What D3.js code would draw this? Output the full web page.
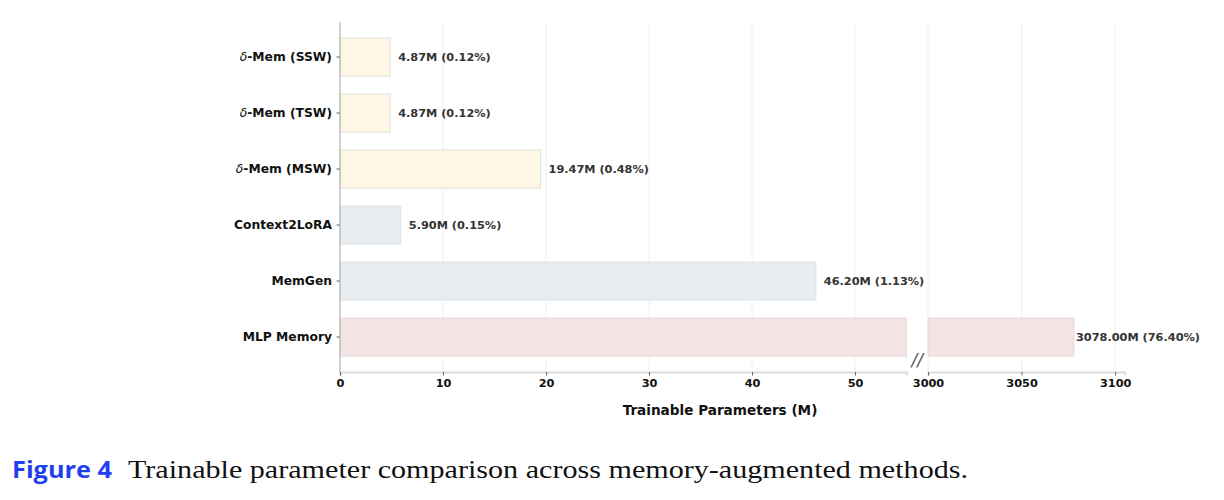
<!DOCTYPE html>
<html>
<head>
<meta charset="utf-8">
<script src="https://cdn.jsdelivr.net/npm/d3@7"></script>
<style>
  body { margin: 0; background: #fff; }
  svg { display: block; }
</style>
</head>
<body>
<svg id="chart" width="1224" height="500"></svg>
<script>
// data
const methods = ["δ-Mem (SSW)", "δ-Mem (TSW)", "δ-Mem (MSW)", "Context2LoRA", "MemGen", "MLP Memory"];
const params = [4.87, 4.87, 19.47, 5.90, 46.20, 3078.00];
const shares = [0.12, 0.12, 0.48, 0.15, 1.13, 76.40];
const groups = ["delta", "delta", "delta", "base", "base", "mlp"];
const leftTicks = [0, 10, 20, 30, 40, 50];
const rightTicks = [3000, 3050, 3100];

const fills = { delta: "#fef7e6", base: "#e7ecf0", mlp: "#f3e3e3" };
const strokes = { delta: "#e2ded4", base: "#dde2e6", mlp: "#e8dada" };

const svg = d3.select("#chart");
const plotTop = 22, plotBottom = 372;

const y = d3.scaleBand()
  .domain(methods)
  .range([plotTop, plotBottom])
  .paddingInner(0.32)
  .paddingOuter(0.285);

// broken x axis: two linear pieces
const xL = d3.scaleLinear().domain([0, 55]).range([340, 906.5]);
const xR = d3.scaleLinear().domain([3000, 3105]).range([928, 1124.5]);

// grid
const grid = svg.append("g");
grid.selectAll("line.gl")
  .data(leftTicks)
  .join("line")
  .attr("class", "gl")
  .attr("x1", d => xL(d)).attr("x2", d => xL(d))
  .attr("y1", plotTop).attr("y2", plotBottom)
  .attr("stroke", "#f0f0f0").attr("stroke-width", 1);
grid.selectAll("line.gr")
  .data(rightTicks)
  .join("line")
  .attr("class", "gr")
  .attr("x1", d => xR(d)).attr("x2", d => xR(d))
  .attr("y1", plotTop).attr("y2", plotBottom)
  .attr("stroke", "#f0f0f0").attr("stroke-width", 1);

const rows = methods.map((m, i) => ({ m, v: params[i], p: shares[i], g: groups[i] }));

// bars, left part
svg.append("g").selectAll("rect")
  .data(rows)
  .join("rect")
  .attr("x", xL(0))
  .attr("y", d => y(d.m))
  .attr("width", d => Math.min(xL(d.v), xL.range()[1]) - xL(0))
  .attr("height", y.bandwidth())
  .attr("fill", d => fills[d.g])
  .attr("stroke", d => strokes[d.g])
  .attr("stroke-width", 1);

// bars, right part (only the big one)
svg.append("g").selectAll("rect")
  .data(rows.filter(d => d.v > xL.domain()[1]))
  .join("rect")
  .attr("x", xR(3000))
  .attr("y", d => y(d.m))
  .attr("width", d => xR(d.v) - xR(3000))
  .attr("height", y.bandwidth())
  .attr("fill", d => fills[d.g])
  .attr("stroke", d => strokes[d.g])
  .attr("stroke-width", 1);

// value labels
svg.append("g").selectAll("text")
  .data(rows)
  .join("text")
  .attr("x", d => d.v > 55 ? xR(d.v) + 2 : xL(d.v) + 8)
  .attr("y", d => y(d.m) + y.bandwidth() / 2)
  .attr("dy", "0.35em")
  .attr("font-family", "DejaVu Sans")
  .attr("font-weight", "bold")
  .attr("font-size", 11.3)
  .attr("fill", "#333")
  .text(d => `${d.v.toFixed(2)}M (${d.p.toFixed(2)}%)`);

// bottom axes
const axL = d3.axisBottom(xL).tickValues(leftTicks).tickFormat(d3.format("d")).tickSize(3.5).tickPadding(3);
const axR = d3.axisBottom(xR).tickValues(rightTicks).tickFormat(d3.format("d")).tickSize(3.5).tickPadding(3);

[axL, axR].forEach(ax => {
  const g = svg.append("g")
    .attr("transform", `translate(0,${plotBottom})`)
    .call(ax);
  g.select(".domain").attr("stroke", "#dddddd").attr("stroke-width", 2);
  g.selectAll(".tick line").attr("stroke", "#444").attr("stroke-width", 0.8);
  g.selectAll(".tick text")
    .attr("font-family", "DejaVu Sans")
    .attr("font-weight", "bold")
    .attr("font-size", 11.3)
    .attr("fill", "#111");
});

// left axis
const ay = svg.append("g")
  .attr("transform", `translate(${xL(0)},0)`)
  .call(d3.axisLeft(y).tickSize(3.5).tickPadding(4).tickFormat(""));
ay.select(".domain").attr("stroke", "#aaa").attr("stroke-width", 1)
  .attr("d", `M0,${plotTop}V${plotBottom}`);
ay.selectAll(".tick line").attr("stroke", "#444").attr("stroke-width", 0.8);

ay.selectAll(".tick").each(function(d) {
  const t = d3.select(this).append("text")
    .attr("x", -8)
    .attr("dy", "0.35em")
    .attr("text-anchor", "end")
    .attr("font-family", "DejaVu Sans")
    .attr("font-weight", "bold")
    .attr("font-size", 12.3)
    .attr("fill", "#111");
  if (d.startsWith("δ")) {
    t.append("tspan").attr("font-style", "italic").attr("font-weight", "normal").text("δ");
    t.append("tspan").text(d.slice(1));
  } else {
    t.text(d);
  }
});

// break marker
svg.append("text")
  .attr("x", (xL.range()[1] + xR.range()[0]) / 2)
  .attr("y", 366)
  .attr("text-anchor", "middle")
  .attr("font-family", "DejaVu Sans")
  .attr("font-style", "italic")
  .attr("font-size", 17)
  .attr("fill", "#555")
  .text("//");

// axis title
svg.append("text")
  .attr("x", 720)
  .attr("y", 415)
  .attr("text-anchor", "middle")
  .attr("font-family", "DejaVu Sans")
  .attr("font-weight", "bold")
  .attr("font-size", 13.6)
  .attr("fill", "#111")
  .text("Trainable Parameters (M)");

// caption
svg.append("text")
  .attr("x", 12)
  .attr("y", 478)
  .attr("font-family", "Open Sans")
  .attr("font-weight", "bold")
  .attr("font-size", 23)
  .attr("fill", "#1f3ff0")
  .attr("textLength", 100)
  .attr("lengthAdjust", "spacingAndGlyphs")
  .text("Figure 4");
svg.append("text")
  .attr("x", 128)
  .attr("y", 478)
  .attr("font-family", "Liberation Serif")
  .attr("font-size", 26)
  .attr("fill", "#111")
  .attr("textLength", 840)
  .attr("lengthAdjust", "spacingAndGlyphs")
  .text("Trainable parameter comparison across memory-augmented methods.");
</script>
</body>
</html>
